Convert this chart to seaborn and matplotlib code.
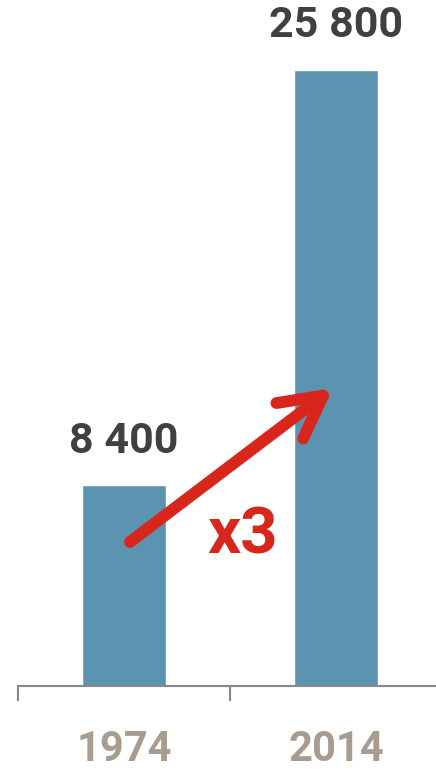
import matplotlib
matplotlib.use("Agg")
import matplotlib.pyplot as plt
import seaborn as sns
import pandas as pd

years = ["1974", "2014"]
values = [8400, 25800]
value_labels = ["8 400", "25 800"]
ratio_label = "x3"

sns.set_style("white")
plt.rcParams['font.family'] = ['Roboto', 'DejaVu Sans']

df = pd.DataFrame({"year": years, "value": values})

fig = plt.figure(figsize=(4.36, 7.69), dpi=100)
ax = fig.add_axes([18/436, 83/769, 418/436, 686/769])

sns.barplot(data=df, x="year", y="value", color="#5B93B0", saturation=1,
            width=0.4, ax=ax)

ax.set_xlim(-0.5, 1.472)
ax.set_ylim(0, 28730)

for i, (v, lab) in enumerate(zip(values, value_labels)):
    ax.annotate(lab, (i, v), xytext=(0, 17), textcoords="offset points",
                ha="center", va="bottom", fontsize=31, fontweight="bold",
                color="#404040")

# arrow
ax.annotate("", xy=(0.986, 12480), xytext=(0.028, 6031),
            arrowprops=dict(arrowstyle="->,head_length=1.5,head_width=0.8",
                            lw=8.5, color="#D9261C", mutation_scale=20,
                            shrinkA=0, shrinkB=0))
ax.text(0.56, 6300, ratio_label, ha="center", va="center", fontsize=47,
        fontweight="bold", color="#D9261C")

for s in ["top", "right", "left"]:
    ax.spines[s].set_visible(False)
ax.spines["bottom"].set_color("#888888")
ax.spines["bottom"].set_linewidth(1.5)
ax.set_yticks([])
ax.set_xlabel("")
ax.set_ylabel("")
ax.set_xticks([0, 1])
ax.set_xticklabels(years, fontsize=30, fontweight="bold", color="#A89C8E")
ax.tick_params(axis="x", which="major", length=0, pad=31)
ax.set_xticks([-0.5, 0.5], minor=True)
ax.tick_params(axis="x", which="minor", bottom=True, length=11, width=1.5,
               color="#888888", direction="out")

fig.savefig("out.png", dpi=100)
